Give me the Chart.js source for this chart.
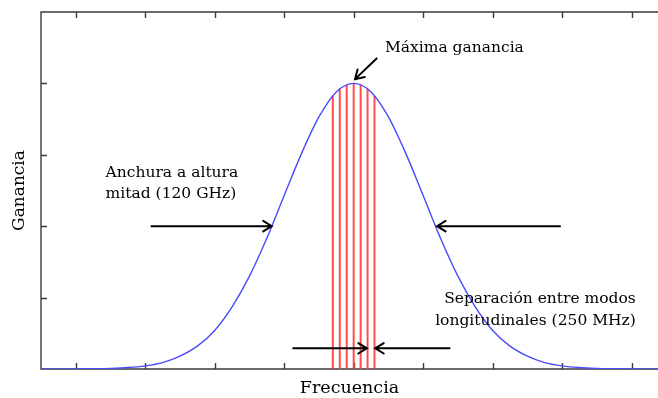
<!DOCTYPE html>
<html lang="es">
<head>
  <meta charset="UTF-8" />
  <title>Ganancia vs Frecuencia</title>
  <script src="https://cdn.jsdelivr.net/npm/chart.js"></script>
  <style>
    html, body { margin: 0; padding: 0; background: #fff; }
    .wrap { width: 658px; height: 398px; }
  </style>
</head>
<body>
  <div class="wrap"><canvas id="gainChart"></canvas></div>

  <script>
    // gain curve (x in tick units, centre = 0)
    const curveX = [-4.5, -4.25, -4, -3.75, -3.5, -3.25, -3, -2.75, -2.5, -2.25, -2, -1.75, -1.5, -1.25, -1, -0.75, -0.5, -0.25,
                    0, 0.25, 0.5, 0.75, 1, 1.25, 1.5, 1.75, 2, 2.25, 2.5, 2.75, 3, 3.25, 3.5, 3.75, 4, 4.25, 4.38];
    const curveY = [0, 0, 0.001, 0.004, 0.009, 0.02, 0.044, 0.09, 0.18, 0.32, 0.54, 0.87, 1.30, 1.83, 2.43, 3.02, 3.53, 3.88,
                    4.0, 3.88, 3.53, 3.02, 2.43, 1.83, 1.30, 0.87, 0.54, 0.32, 0.18, 0.09, 0.044, 0.02, 0.009, 0.004, 0.001, 0, 0];

    // longitudinal modes (red lines)
    const modeX = [-0.3, -0.2, -0.1, 0, 0.1, 0.2, 0.3];
    const modeY = [3.82, 3.92, 3.98, 4.0, 3.98, 3.92, 3.82];

    const xTicks = [-4, -3, -2, -1, 0, 1, 2, 3, 4];
    const yTicks = [1, 2, 3, 4];

    // arrows: [tailX, tailY, tipX, tipY]
    const arrows = [
      [-2.91, 2.0, -1.18, 2.0],
      [2.97, 2.0, 1.20, 2.0],
      [-0.87, 0.29, 0.19, 0.29],
      [1.38, 0.29, 0.31, 0.29],
      [0.33, 4.35, 0.02, 4.06]
    ];

    // annotations: [text, x, y, align]
    const notes = [
      ["Máxima ganancia", 0.45, 4.50, "left"],
      ["Anchura a altura", -3.57, 2.74, "left"],
      ["mitad (120 GHz)", -3.57, 2.45, "left"],
      ["Separación entre modos", 4.06, 0.98, "right"],
      ["longitudinales (250 MHz)", 4.06, 0.67, "right"]
    ];

    const serif = "'DejaVu Serif', 'Liberation Serif', serif";

    const framePlugin = {
      id: "frame",
      beforeDatasetsDraw(chart) {
        const { ctx, chartArea: a, scales: { x, y } } = chart;
        ctx.save();
        ctx.strokeStyle = "#3a3a3a";
        ctx.lineWidth = 1.4;
        ctx.beginPath();
        ctx.moveTo(a.right + 2, a.top);
        ctx.lineTo(a.left, a.top);
        ctx.lineTo(a.left, a.bottom);
        ctx.lineTo(a.right + 2, a.bottom);
        ctx.stroke();
        ctx.beginPath();
        xTicks.forEach(v => {
          const px = Math.round(x.getPixelForValue(v)) + 0.5;
          ctx.moveTo(px, a.bottom); ctx.lineTo(px, a.bottom - 6);
          ctx.moveTo(px, a.top); ctx.lineTo(px, a.top + 6);
        });
        yTicks.forEach(v => {
          const py = Math.round(y.getPixelForValue(v)) + 0.5;
          ctx.moveTo(a.left, py); ctx.lineTo(a.left + 6, py);
        });
        ctx.stroke();
        ctx.restore();
      },
      afterDatasetsDraw(chart) {
        const { ctx, scales: { x, y } } = chart;
        ctx.save();
        ctx.strokeStyle = "#000";
        ctx.lineWidth = 2;
        ctx.lineCap = "round";
        arrows.forEach(([x0, y0, x1, y1]) => {
          const px0 = x.getPixelForValue(x0), py0 = y.getPixelForValue(y0);
          const px1 = x.getPixelForValue(x1), py1 = y.getPixelForValue(y1);
          const ang = Math.atan2(py1 - py0, px1 - px0);
          const h = 10, w = 0.55;
          ctx.beginPath();
          ctx.moveTo(px0, py0); ctx.lineTo(px1, py1);
          ctx.moveTo(px1 - h * Math.cos(ang - w), py1 - h * Math.sin(ang - w));
          ctx.lineTo(px1, py1);
          ctx.lineTo(px1 - h * Math.cos(ang + w), py1 - h * Math.sin(ang + w));
          ctx.stroke();
        });
        ctx.fillStyle = "#000";
        ctx.font = "15.5px " + serif;
        ctx.textBaseline = "middle";
        notes.forEach(([t, nx, ny, al]) => {
          ctx.textAlign = al;
          ctx.fillText(t, x.getPixelForValue(nx), y.getPixelForValue(ny));
        });
        ctx.restore();
      }
    };

    new Chart(document.getElementById("gainChart"), {
      type: "line",
      data: {
        datasets: [
          {
            type: "line",
            label: "Ganancia",
            data: curveX.map((v, i) => ({ x: v, y: curveY[i] })),
            borderColor: "#4a4aff",
            borderWidth: 1.4,
            pointRadius: 0,
            cubicInterpolationMode: "monotone",
            fill: false,
            order: 1
          },
          {
            type: "bar",
            label: "Modos",
            data: modeX.map((v, i) => ({ x: v, y: modeY[i] })),
            backgroundColor: "#ff4a4a",
            borderWidth: 0,
            barThickness: 1.3,
            grouped: false,
            order: 2
          }
        ]
      },
      options: {
        responsive: true,
        maintainAspectRatio: false,
        animation: false,
        layout: { padding: { top: 12, right: 0, left: 0, bottom: 0 } },
        plugins: { legend: { display: false }, tooltip: { enabled: false } },
        scales: {
          x: {
            type: "linear",
            min: -4.5,
            max: 4.38,
            offset: false,
            grid: { display: false },
            border: { display: false },
            ticks: { display: false },
            title: { display: true, text: "Frecuencia", color: "#000",
                     font: { family: serif, size: 17.5, lineHeight: 1 }, padding: { top: 0, bottom: 1 } },
            afterFit(s) { s.height = 29; }
          },
          y: {
            min: 0,
            max: 5,
            grid: { display: false },
            border: { display: false },
            ticks: { display: false },
            title: { display: true, text: "Ganancia", color: "#000",
                     font: { family: serif, size: 17, lineHeight: 1 }, padding: { top: 11, bottom: 0 } },
            afterFit(s) { s.width = 41; }
          }
        }
      },
      plugins: [framePlugin]
    });
  </script>
</body>
</html>
